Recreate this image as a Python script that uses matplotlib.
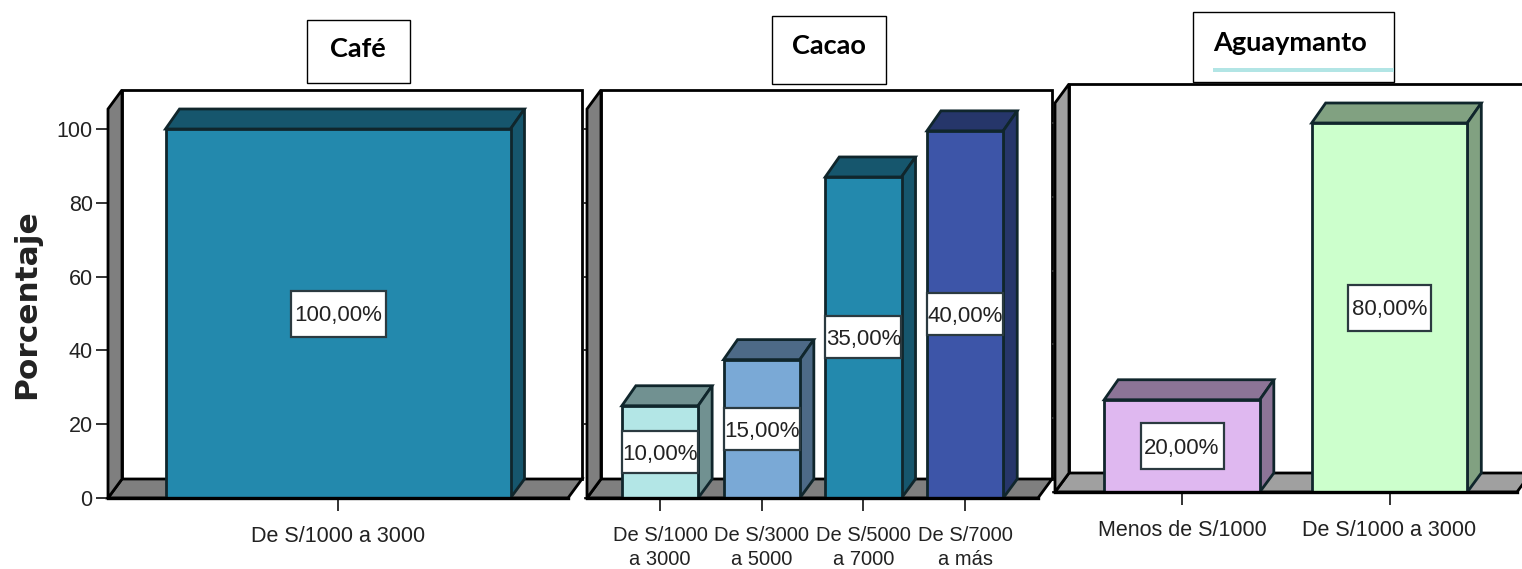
import numpy as np
import matplotlib
matplotlib.use("Agg")
import matplotlib.pyplot as plt
from matplotlib.colors import to_rgb
from matplotlib.patches import Polygon, Rectangle

plt.rcParams["font.family"] = ["Liberation Sans", "DejaVu Sans"]

W, H = 1522, 569

# Bar heights as drawn (the printed labels do not follow them in the source figure)
cafe_cats = ["De S/1000 a 3000"]
cafe_vals = [100]
cafe_labels = ["100,00%"]
cafe_colors = ["#2389ad"]

cacao_cats = ["De S/1000\na 3000", "De S/3000\na 5000", "De S/5000\na 7000", "De S/7000\na más"]
cacao_vals = [25, 37.5, 87, 99.5]
cacao_labels = ["10,00%", "15,00%", "35,00%", "40,00%"]
cacao_colors = ["#b3e6e6", "#7aa9d6", "#2389ad", "#3d55a8"]

agua_cats = ["Menos de S/1000", "De S/1000 a 3000"]
agua_vals = [25, 100]
agua_labels = ["20,00%", "80,00%"]
agua_colors = ["#dfb8f0", "#ccffcc"]

yticks = [0, 20, 40, 60, 80, 100]

PX_PER_UNIT = 3.69
DEPTH_X, DEPTH_Y = 14, 19
BAR_DEPTH_Y = 20
EDGE = "#10262c"
TEXT = "#222222"
LW = 2.0


def panel(fig, cats, vals, labels, colors, left, right, base, top, first, spacing,
          wall, box_w, box_h, tick_len, cat_size=15.5):
    ax = fig.add_axes([left / W, (H - base) / H, (right - left) / W, (base - top) / H])
    ax.set_xlim((left - first) / spacing, (right - first) / spacing)
    ax.set_ylim(0, (base - top) / PX_PER_UNIT)
    ax.patch.set_visible(False)
    for side in ["top", "right", "left"]:
        ax.spines[side].set_visible(False)
    ax.spines["bottom"].set_linewidth(2.4)
    ax.spines["bottom"].set_bounds(ax.get_xlim()[0], (right - DEPTH_X - first) / spacing)
    ax.spines["bottom"].set_zorder(6)

    dx = DEPTH_X / spacing
    dy = DEPTH_Y / PX_PER_UNIT
    bar_dy = BAR_DEPTH_Y / PX_PER_UNIT
    x0, x1 = ax.get_xlim()
    y1 = ax.get_ylim()[1]

    # back wall, floor and left wall
    ax.add_patch(Rectangle((x0 + dx, dy), x1 - x0 - dx, y1 - dy, fc="white", ec="black",
                           lw=LW, clip_on=False, zorder=1))
    ax.add_patch(Polygon([(x0, 0), (x0 + dx, dy), (x1, dy), (x1 - dx, 0)], fc=wall, ec="black",
                         lw=LW, clip_on=False, zorder=2))
    ax.add_patch(Polygon([(x0, 0), (x0 + dx, dy), (x0 + dx, y1), (x0, y1 - dy)], fc=wall, ec="black",
                         lw=LW, clip_on=False, zorder=2))

    xs = np.arange(len(vals))
    ax.bar(xs, vals, width=0.75, color=colors, edgecolor=EDGE, linewidth=LW, zorder=4)
    for x, v, lab, c in zip(xs, vals, labels, colors):
        dark = tuple(0.63 * ch for ch in to_rgb(c))
        l, r = x - 0.375, x + 0.375
        ax.add_patch(Polygon([(l, v), (l + dx, v + bar_dy), (r + dx, v + bar_dy), (r, v)],
                             fc=dark, ec=EDGE, lw=LW, zorder=3))
        ax.add_patch(Polygon([(r, 0), (r + dx, dy), (r + dx, v + bar_dy), (r, v)],
                             fc=dark, ec=EDGE, lw=LW, zorder=3))
        bw = box_w / spacing
        bh = box_h / PX_PER_UNIT
        ax.add_patch(Rectangle((x - bw / 2, v / 2 - bh / 2), bw, bh, fc="white", ec="#2b3a40",
                               lw=1.6, zorder=5))
        ax.text(x, v / 2, lab, ha="center", va="center_baseline", fontsize=16, color=TEXT, zorder=6)

    ax.set_xticks(xs)
    ax.set_xticklabels(cats, fontsize=cat_size, color=TEXT, linespacing=1.35)
    ax.tick_params(axis="x", length=9, width=1.4, color="#333333", pad=11)
    ax.set_yticks(yticks)
    ax.tick_params(axis="y", length=tick_len, width=1.4, color="#333333", labelleft=False, pad=2)
    return ax


def title_box(fig, text, x0, x1, y0, y1, tx, ty, ha="center"):
    fig.add_artist(Rectangle((x0 / W, 1 - y1 / H), (x1 - x0) / W, (y1 - y0) / H, fc="white",
                             ec="black", lw=1, transform=fig.transFigure))
    fig.text(tx / W, 1 - ty / H, text, ha=ha, va="center", fontsize=19.5, fontweight="bold",
             family="Lato", color="black")


fig = plt.figure(figsize=(W / 100, H / 100), dpi=100)

ax1 = panel(fig, cafe_cats, cafe_vals, cafe_labels, cafe_colors, 108, 582, 498, 90, 338, 460,
            "#7f7f7f", 95, 46, 9)
ax1.tick_params(axis="y", labelleft=True, labelsize=15.5, labelcolor=TEXT)
ax1.set_ylabel("Porcentaje", fontsize=22.5, fontweight="bold", family="DejaVu Sans", color=TEXT)
ax1.yaxis.set_label_coords(41 / W, 1 - 304 / H, transform=fig.transFigure)

panel(fig, cacao_cats, cacao_vals, cacao_labels, cacao_colors, 587, 1052, 498, 90, 660, 101.7,
      "#7f7f7f", 76, 42, 2, cat_size=14.5)
panel(fig, agua_cats, agua_vals, agua_labels, agua_colors, 1055, 1531, 492, 84, 1182, 207.5,
      "#a0a0a0", 83, 46, 2)

title_box(fig, "Café", 307, 410, 20, 83, 358, 49)
title_box(fig, "Cacao", 772, 886, 16, 84, 829, 46)
title_box(fig, "Aguaymanto", 1193, 1394, 12, 82, 1213, 43, ha="left")
fig.add_artist(Rectangle((1213 / W, 1 - 72 / H), 181 / W, 4 / H, fc="#b2e5e5", ec="none",
                         transform=fig.transFigure))

fig.savefig("out.png", dpi=100)
